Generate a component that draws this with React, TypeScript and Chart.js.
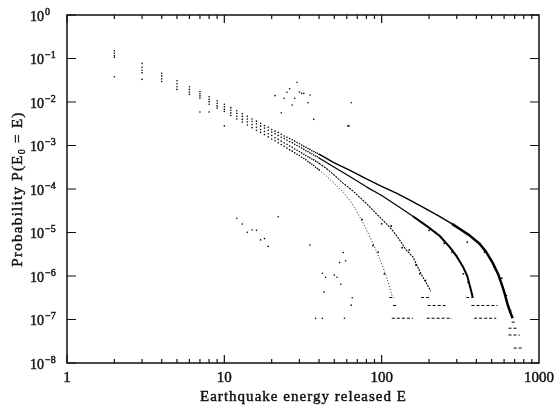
import React, { useEffect, useRef } from "react";
import { Chart, registerables } from "chart.js";

Chart.register(...registerables);

// ---------- axes ----------
const xTickValues = [1, 10, 100, 1000];
const xTickLabels = ["1", "10", "100", "1000"];
const yTickExponents = [0, -1, -2, -3, -4, -5, -6, -7, -8];
const xAxisTitle = "Earthquake energy released E";
const yAxisTitleMain = "Probability P(E";
const yAxisTitleSub = "0";
const yAxisTitleEnd = " = E)";

// ---------- small energies (discrete dots) ----------
const smallEnergies = [2, 3, 4, 5, 6, 7, 8, 9, 10, 11, 12, 13, 14, 15, 16, 17, 18, 19, 20, 21, 22, 23, 24, 25, 26, 27, 28, 29, 30, 31, 32, 33, 34, 35, 36, 37, 38, 39, 40];

const curveDSmallP = [1.51e-1, 7.76e-2, 4.57e-2, 3.09e-2, 2.24e-2, 1.74e-2, 1.32e-2, 1.07e-2, 8.91e-3, 7.41e-3, 6.31e-3, 5.37e-3, 4.68e-3, 4.07e-3, 3.63e-3, 3.24e-3, 2.88e-3, 2.63e-3, 2.34e-3, 2.14e-3, 2.0e-3, 1.82e-3, 1.66e-3, 1.55e-3, 1.45e-3, 1.35e-3, 1.26e-3, 1.17e-3, 1.1e-3, 1.02e-3, 9.55e-4, 9.12e-4, 8.51e-4, 8.13e-4, 7.59e-4, 7.24e-4, 6.92e-4, 6.61e-4, 6.31e-4];
const curveCSmallP = [1.32e-1, 6.31e-2, 3.98e-2, 2.63e-2, 1.95e-2, 1.55e-2, 1.15e-2, 9.33e-3, 7.76e-3, 6.46e-3, 5.5e-3, 4.68e-3, 4.07e-3, 3.55e-3, 3.16e-3, 2.82e-3, 2.51e-3, 2.24e-3, 2.04e-3, 1.86e-3, 1.7e-3, 1.55e-3, 1.45e-3, 1.32e-3, 1.23e-3, 1.15e-3, 1.07e-3, 1.0e-3, 9.33e-4, 8.71e-4, 8.13e-4, 7.59e-4, 7.24e-4, 6.76e-4, 6.46e-4, 6.03e-4, 5.75e-4, 5.5e-4, 5.13e-4];
const curveBSmallP = [1.15e-1, 5.37e-2, 3.39e-2, 2.24e-2, 1.7e-2, 1.38e-2, 1.02e-2, 8.13e-3, 6.76e-3, 5.62e-3, 4.68e-3, 3.98e-3, 3.47e-3, 3.02e-3, 2.63e-3, 2.34e-3, 2.09e-3, 1.86e-3, 1.7e-3, 1.51e-3, 1.38e-3, 1.26e-3, 1.15e-3, 1.07e-3, 9.77e-4, 9.12e-4, 8.32e-4, 7.76e-4, 7.24e-4, 6.76e-4, 6.31e-4, 5.89e-4, 5.5e-4, 5.25e-4, 4.9e-4, 4.68e-4, 4.37e-4, 4.17e-4, 3.89e-4];
const curveASmallP = [1.07e-1, 4.68e-2, 2.95e-2, 1.95e-2, 1.51e-2, 1.23e-2, 8.91e-3, 7.24e-3, 6.03e-3, 4.9e-3, 4.07e-3, 3.47e-3, 2.95e-3, 2.57e-3, 2.24e-3, 2.0e-3, 1.78e-3, 1.58e-3, 1.41e-3, 1.29e-3, 1.15e-3, 1.05e-3, 9.55e-4, 8.71e-4, 7.94e-4, 7.41e-4, 6.76e-4, 6.31e-4, 5.89e-4, 5.37e-4, 5.01e-4, 4.68e-4, 4.27e-4, 3.98e-4, 3.72e-4, 3.47e-4, 3.16e-4, 2.95e-4, 2.75e-4];

// ---------- tails (dense part, drawn as lines) ----------
const curveDTailE = [40, 50, 62, 80, 100, 125, 150, 190, 233, 280, 314, 360, 419, 460, 508, 550, 587, 610, 631, 655, 680];
const curveDTailP = [6.31e-4, 3.98e-4, 2.75e-4, 1.7e-4, 1.15e-4, 7.94e-5, 5.62e-5, 3.55e-5, 2.34e-5, 1.58e-5, 1.2e-5, 8.71e-6, 5.5e-6, 3.63e-6, 2.0e-6, 1.1e-6, 5.62e-7, 3.55e-7, 2.24e-7, 1.51e-7, 1.07e-7];
const curveCTailE = [40, 50, 62, 80, 100, 125, 157, 195, 234, 270, 300, 330, 350, 365, 380];
const curveCTailP = [5.13e-4, 3.16e-4, 2.0e-4, 1.12e-4, 7.08e-5, 4.17e-5, 2.4e-5, 1.38e-5, 8.32e-6, 4.68e-6, 2.82e-6, 1.58e-6, 1.0e-6, 5.62e-7, 3.16e-7];
const curveBTailE = [40, 45, 50, 57, 65, 72, 82, 92, 102, 112, 122, 130, 143, 158, 170, 182, 195, 205];
const curveBTailP = [3.89e-4, 2.88e-4, 2.09e-4, 1.35e-4, 9.33e-5, 6.61e-5, 4.27e-5, 2.75e-5, 1.91e-5, 1.35e-5, 9.33e-6, 6.76e-6, 3.98e-6, 2.75e-6, 1.58e-6, 9.55e-7, 6.31e-7, 4.47e-7];
const curveATailE = [40, 45, 50, 56, 63, 68, 72, 78, 84, 90, 97, 102, 107, 112, 117];
const curveATailP = [2.75e-4, 1.91e-4, 1.35e-4, 8.91e-5, 5.37e-5, 3.55e-5, 2.4e-5, 1.41e-5, 7.94e-6, 4.79e-6, 2.51e-6, 1.58e-6, 1.0e-6, 5.62e-7, 3.31e-7];

// ---------- noisy points scattered around the tails ----------
const tailNoiseE = [100, 115, 135, 150, 165, 175, 190, 200, 220, 250, 280, 300, 330, 355, 350, 450, 520, 580, 620, 660, 75, 88, 95, 104];
const tailNoiseP = [1.58e-5, 1.41e-5, 4.47e-6, 3.98e-6, 1.78e-6, 1.12e-6, 7.94e-7, 1.12e-5, 1.0e-5, 5.62e-6, 3.55e-6, 2.82e-6, 1.12e-6, 7.08e-7, 6.03e-6, 3.55e-6, 1.58e-6, 8.91e-7, 3.55e-7, 1.58e-7, 2.0e-5, 5.01e-6, 3.55e-6, 1.12e-6];

// ---------- quantised count levels at the ends of the tails ----------
const barStartE = [116, 118, 112, 193, 196, 178, 387, 372, 345, 670, 640, 640, 690];
const barEndE = [158, 126, 121, 280, 260, 200, 535, 545, 380, 720, 735, 755, 790];
const barLevelP = [1.07e-7, 2.1e-7, 3.2e-7, 1.07e-7, 2.1e-7, 3.2e-7, 1.07e-7, 2.1e-7, 3.2e-7, 8.7e-8, 6.3e-8, 4.4e-8, 2.2e-8];

// ---------- isolated points ----------
const upperScatterE = [2, 3, 7, 8, 10, 21, 23, 24, 25, 26, 27, 28, 29, 30, 31, 32, 34, 35, 37, 61, 62, 64];
const upperScatterP = [3.8e-2, 3.31e-2, 5.89e-3, 5.89e-3, 2.82e-3, 1.4e-2, 5.68e-3, 1.22e-2, 1.67e-2, 2.02e-2, 8.51e-3, 1.22e-2, 2.84e-2, 1.7e-2, 1.58e-2, 1.58e-2, 9.64e-3, 1.45e-2, 3.98e-3, 2.82e-3, 2.82e-3, 9.64e-3];
const lowerScatterE = [12, 13, 14, 15, 16, 17, 18, 19, 22, 35, 38, 42, 42, 43, 44, 50, 52, 54, 55, 57, 58, 59, 64, 65];
const lowerScatterP = [2.12e-5, 1.57e-5, 1.01e-5, 1.14e-5, 1.12e-5, 6.76e-6, 7.24e-6, 4.79e-6, 2.31e-5, 5.13e-6, 1.07e-7, 1.15e-6, 1.07e-7, 4.27e-7, 9.33e-7, 1.05e-6, 9.33e-7, 2.04e-6, 6.46e-7, 3.47e-6, 1.07e-7, 2.24e-6, 2.14e-7, 3.16e-7];

function toPoints(xs: number[], ys: number[]) {
  return xs.map((x, i) => ({ x, y: ys[i] }));
}

function barPoints() {
  const out: { x: number; y: number | null }[] = [];
  for (let i = 0; i < barStartE.length; i++) {
    out.push({ x: barStartE[i], y: barLevelP[i] });
    out.push({ x: barEndE[i], y: barLevelP[i] });
    out.push({ x: barEndE[i], y: null });
  }
  return out;
}

const INK = "#111";
const FONT = '"Liberation Serif", "DejaVu Serif", serif';

function text(ctx: CanvasRenderingContext2D, s: string, x: number, y: number) {
  ctx.fillText(s, x, y);
  ctx.strokeText(s, x, y);
}

function drawSpaced(ctx: CanvasRenderingContext2D, s: string, cx: number, y: number, target: number) {
  (ctx as any).letterSpacing = "0px";
  const w = ctx.measureText(s).width;
  const sp = Math.max(0, (target - w) / Math.max(1, s.length - 1));
  (ctx as any).letterSpacing = sp + "px";
  const w2 = ctx.measureText(s).width;
  ctx.textAlign = "left";
  text(ctx, s, cx - w2 / 2 + sp / 2, y);
  (ctx as any).letterSpacing = "0px";
}

const framePlugin = {
  id: "frameAndLabels",
  afterDatasetsDraw(chart: any) {
    const { ctx, chartArea: a } = chart;
    const xs = chart.scales.x;
    const ys = chart.scales.y;
    ctx.save();
    ctx.strokeStyle = INK;
    ctx.lineWidth = 1.5;
    ctx.strokeRect(a.left, a.top, a.right - a.left, a.bottom - a.top);

    ctx.lineWidth = 1.2;
    ctx.beginPath();
    for (let i = 0; i < xTickValues.length - 1; i++) {
      for (let m = 1; m < 10; m++) {
        const px = xs.getPixelForValue(xTickValues[i] * m);
        const len = m === 1 ? 8 : 4;
        ctx.moveTo(px, a.bottom);
        ctx.lineTo(px, a.bottom - len);
        ctx.moveTo(px, a.top);
        ctx.lineTo(px, a.top + len);
      }
    }
    for (const e of yTickExponents) {
      const py = ys.getPixelForValue(Math.pow(10, e));
      ctx.moveTo(a.left, py);
      ctx.lineTo(a.left + 9, py);
      ctx.moveTo(a.right, py);
      ctx.lineTo(a.right - 9, py);
    }
    ctx.stroke();

    ctx.fillStyle = INK;
    ctx.strokeStyle = INK;
    ctx.lineWidth = 0.45;
    // x tick labels
    ctx.font = "15px " + FONT;
    ctx.textAlign = "center";
    ctx.textBaseline = "middle";
    xTickValues.forEach((v, i) => {
      text(ctx, xTickLabels[i], xs.getPixelForValue(v), a.bottom + 15);
    });

    // y tick labels: 10^e
    for (const e of yTickExponents) {
      const py = ys.getPixelForValue(Math.pow(10, e));
      ctx.font = "14px " + FONT;
      ctx.textAlign = "left";
      ctx.textBaseline = "middle";
      const lx = a.left - 37;
      text(ctx, "10", lx, py + 2);
      const w = ctx.measureText("10").width;
      ctx.font = "10px " + FONT;
      text(ctx, e === 0 ? "0" : "\u2212" + String(-e), lx + w + 1, py - 3);
    }

    // x title
    ctx.font = "15px " + FONT;
    ctx.textBaseline = "middle";
    drawSpaced(ctx, xAxisTitle, (a.left + a.right) / 2, a.bottom + 34, 206);

    // y title (rotated) with subscript
    ctx.save();
    ctx.translate(a.left - 49, (a.top + a.bottom) / 2);
    ctx.rotate(-Math.PI / 2);
    ctx.textBaseline = "middle";
    ctx.textAlign = "left";
    (ctx as any).letterSpacing = "1.3px";
    ctx.font = "15px " + FONT;
    const w1 = ctx.measureText(yAxisTitleMain).width;
    const w3 = ctx.measureText(yAxisTitleEnd).width;
    ctx.font = "10px " + FONT;
    const w2 = ctx.measureText(yAxisTitleSub).width;
    const x0 = -(w1 + w2 + w3) / 2;
    ctx.font = "15px " + FONT;
    text(ctx, yAxisTitleMain, x0, 0);
    ctx.font = "10px " + FONT;
    text(ctx, yAxisTitleSub, x0 + w1, 4);
    ctx.font = "15px " + FONT;
    text(ctx, yAxisTitleEnd, x0 + w1 + w2, 0);
    ctx.restore();

    ctx.restore();
  },
};

function dots(label: string, xs: number[], ys: number[], r = 0.8) {
  return {
    label,
    data: toPoints(xs, ys),
    showLine: false,
    pointRadius: r,
    pointBackgroundColor: "#000",
    pointBorderWidth: 0,
    pointHoverRadius: 0,
  };
}

function tail(label: string, xs: number[], ys: number[], width: number, dash: number[], thickFrom = Infinity, thickW = 0.9) {
  return {
    label,
    data: toPoints(xs, ys),
    showLine: true,
    pointRadius: 0,
    pointHoverRadius: 0,
    borderColor: "#000",
    borderWidth: width,
    borderDash: dash,
    borderJoinStyle: "round",
    segment: {
      borderWidth: (c: any) => (c.p0.parsed.x >= thickFrom ? width + thickW : width),
    },
  };
}

export default function App() {
  const ref = useRef<HTMLCanvasElement | null>(null);

  useEffect(() => {
    if (!ref.current) return;
    const chart = new Chart(ref.current, {
      type: "scatter",
      data: {
        datasets: [
          dots("D small", smallEnergies, curveDSmallP),
          dots("C small", smallEnergies, curveCSmallP),
          dots("B small", smallEnergies, curveBSmallP),
          dots("A small", smallEnergies, curveASmallP),
          tail("D tail", curveDTailE, curveDTailP, 1.4, [], 250, 1.1),
          tail("C tail", curveCTailE, curveCTailP, 1.2, [], 150, 0.8),
          tail("B tail", curveBTailE, curveBTailP, 1.1, [2, 1]),
          tail("A tail", curveATailE, curveATailP, 0.9, [1, 2]),
          dots("tail noise", tailNoiseE, tailNoiseP, 0.9),
          {
            label: "count levels",
            data: barPoints(),
            showLine: true,
            spanGaps: false,
            pointRadius: 0,
            pointHoverRadius: 0,
            borderColor: "#000",
            borderWidth: 1,
            borderDash: [3, 2],
          },
          dots("upper scatter", upperScatterE, upperScatterP),
          dots("lower scatter", lowerScatterE, lowerScatterP),
        ] as any,
      },
      options: {
        responsive: false,
        animation: false,
        devicePixelRatio: 1,
        events: [],
        layout: { padding: { left: 67, right: 18, top: 15, bottom: 43 } },
        plugins: { legend: { display: false }, tooltip: { enabled: false } },
        scales: {
          x: { type: "logarithmic", min: 1, max: 1000, display: false },
          y: { type: "logarithmic", min: 1e-8, max: 1, display: false },
        },
      } as any,
      plugins: [framePlugin],
    });
    return () => chart.destroy();
  }, []);

  return (
    <div style={{ position: "absolute", left: 0, top: 0, width: 557, height: 406, background: "#fff" }}>
      <canvas ref={ref} width={557} height={406} style={{ display: "block" }} />
    </div>
  );
}
